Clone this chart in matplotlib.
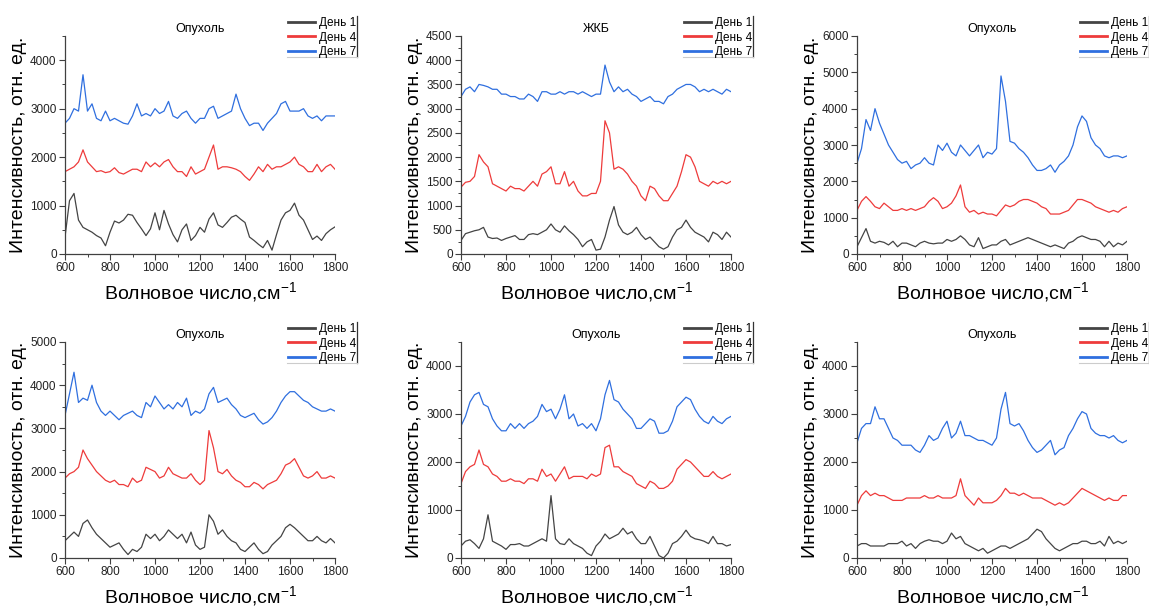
import numpy as np
import matplotlib
matplotlib.use("Agg")
import matplotlib.pyplot as plt
from matplotlib.ticker import MultipleLocator

plt.rcParams['font.family'] = ['Liberation Sans', 'DejaVu Sans']
plt.rcParams['mathtext.fontset'] = 'custom'
plt.rcParams['mathtext.rm'] = 'Liberation Sans'
plt.rcParams['mathtext.default'] = 'rm'

# wavenumber grid, cm^-1
wavenumber = np.arange(600, 1801, 20)

titles = ["Опухоль", "ЖКБ", "Опухоль", "Опухоль", "Опухоль", "Опухоль"]
labels = ["День 1", "День 4", "День 7"]
colors = ["#444444", "#ee3b3b", "#2f6fdf"]

# panel 1 (top left)
p1_day1 = [350, 1100, 1250, 700, 550, 500, 450, 380, 330, 170, 450, 680, 640, 700, 820, 800,
           650, 520, 380, 520, 850, 500, 900, 620, 400, 250, 500, 620, 280, 380, 550, 450,
           720, 850, 600, 550, 650, 760, 800, 720, 650, 350, 280, 200, 130, 280, 80, 400,
           700, 850, 900, 1050, 800, 700, 500, 300, 370, 280, 420, 500, 560]
p1_day4 = [1700, 1750, 1800, 1900, 2150, 1900, 1800, 1700, 1720, 1680, 1700, 1780, 1680, 1650,
           1700, 1750, 1750, 1700, 1900, 1800, 1880, 1800, 1900, 1950, 1800, 1700, 1700, 1600,
           1800, 1650, 1700, 1750, 2000, 2250, 1750, 1800, 1800, 1780, 1750, 1700, 1600, 1520,
           1650, 1800, 1700, 1850, 1750, 1800, 1800, 1850, 1900, 2000, 1850, 1800, 1700, 1700,
           1850, 1700, 1800, 1850, 1750]
p1_day7 = [2700, 2800, 3000, 2950, 3700, 2950, 3100, 2800, 2750, 2950, 2750, 2800, 2750, 2700,
           2680, 2850, 3100, 2850, 2900, 2850, 3000, 2900, 2950, 3150, 2850, 2800, 2900, 2950,
           2800, 2700, 2800, 2800, 3000, 3050, 2800, 2850, 2900, 2950, 3300, 3000, 2800, 2650,
           2700, 2700, 2550, 2700, 2800, 2900, 3100, 3150, 2950, 2950, 2950, 3000, 2850, 2800,
           2850, 2750, 2850, 2850, 2850]

# panel 2 (top middle)
p2_day1 = [280, 420, 450, 480, 500, 550, 350, 320, 330, 280, 320, 350, 380, 300, 300, 400,
           420, 400, 450, 500, 620, 500, 450, 580, 480, 400, 300, 150, 250, 300, 80, 100,
           350, 700, 980, 600, 450, 400, 450, 550, 400, 300, 350, 250, 150, 100, 150, 350,
           500, 550, 700, 550, 450, 400, 350, 250, 450, 400, 300, 450, 350]
p2_day4 = [1380, 1480, 1500, 1600, 2050, 1900, 1800, 1450, 1400, 1350, 1300, 1400, 1350, 1350,
           1300, 1400, 1500, 1400, 1650, 1700, 1800, 1450, 1450, 1700, 1400, 1500, 1300, 1200,
           1200, 1250, 1250, 1500, 2750, 2500, 1750, 1800, 1750, 1650, 1500, 1400, 1200, 1100,
           1400, 1350, 1200, 1100, 1100, 1250, 1400, 1700, 2050, 2000, 1800, 1500, 1450, 1400,
           1500, 1450, 1500, 1450, 1500]
p2_day7 = [3250, 3400, 3450, 3350, 3500, 3480, 3450, 3400, 3400, 3300, 3300, 3250, 3250, 3200,
           3200, 3300, 3250, 3150, 3350, 3350, 3300, 3300, 3350, 3300, 3350, 3350, 3300, 3350,
           3300, 3250, 3300, 3300, 3900, 3550, 3350, 3450, 3350, 3400, 3300, 3250, 3150, 3200,
           3250, 3150, 3150, 3100, 3250, 3300, 3400, 3450, 3500, 3500, 3450, 3350, 3400, 3350,
           3400, 3350, 3300, 3400, 3350]

# panel 3 (top right)
p3_day1 = [200, 450, 700, 350, 300, 350, 320, 250, 350, 200, 300, 300, 250, 200, 300, 350,
           300, 280, 300, 300, 400, 350, 400, 500, 400, 250, 200, 450, 150, 200, 250, 250,
           350, 400, 250, 300, 350, 400, 450, 400, 350, 300, 250, 200, 250, 200, 150, 300,
           350, 450, 500, 450, 400, 400, 350, 200, 350, 200, 300, 250, 350]
p3_day4 = [1200, 1450, 1580, 1450, 1300, 1250, 1400, 1300, 1200, 1200, 1250, 1200, 1250, 1200,
           1250, 1300, 1450, 1550, 1450, 1250, 1300, 1400, 1600, 1900, 1300, 1150, 1200, 1100,
           1150, 1100, 1100, 1050, 1200, 1350, 1300, 1350, 1450, 1500, 1500, 1450, 1400, 1300,
           1250, 1100, 1100, 1100, 1150, 1200, 1350, 1500, 1500, 1450, 1400, 1300, 1250, 1200,
           1150, 1200, 1150, 1250, 1300]
p3_day7 = [2500, 2900, 3700, 3400, 4000, 3600, 3300, 3000, 2800, 2600, 2500, 2550, 2350, 2450,
           2500, 2650, 2500, 2450, 3000, 2850, 3050, 2800, 2700, 3000, 2850, 2700, 2850, 3000,
           2650, 2800, 2750, 2900, 4900, 4200, 3100, 3050, 2900, 2800, 2650, 2450, 2300, 2300,
           2350, 2450, 2250, 2450, 2550, 2700, 3000, 3500, 3800, 3650, 3200, 3000, 2900, 2700,
           2650, 2700, 2700, 2650, 2700]

# panel 4 (bottom left)
p4_day1 = [400, 500, 600, 500, 800, 880, 700, 550, 450, 350, 250, 300, 350, 200, 80, 200,
           150, 250, 550, 450, 550, 400, 500, 650, 550, 450, 550, 350, 600, 300, 200, 250,
           1000, 850, 550, 650, 500, 400, 350, 200, 150, 250, 350, 200, 100, 150, 300, 400,
           500, 700, 780, 700, 600, 500, 400, 400, 500, 400, 350, 450, 350]
p4_day4 = [1850, 1950, 2000, 2100, 2500, 2300, 2150, 2000, 1900, 1800, 1750, 1800, 1700, 1700,
           1650, 1850, 1750, 1800, 2100, 2050, 2000, 1850, 1900, 2100, 1950, 1900, 1850, 1850,
           1950, 1800, 1700, 1800, 2950, 2550, 2000, 1950, 2050, 1900, 1800, 1750, 1650, 1650,
           1750, 1700, 1600, 1700, 1750, 1800, 1950, 2150, 2200, 2300, 2100, 1900, 1850, 1900,
           2000, 1850, 1850, 1900, 1850]
p4_day7 = [3300, 3800, 4300, 3600, 3700, 3650, 4000, 3600, 3400, 3300, 3400, 3300, 3200, 3300,
           3350, 3400, 3300, 3250, 3600, 3500, 3750, 3600, 3450, 3550, 3450, 3600, 3500, 3700,
           3300, 3400, 3350, 3450, 3800, 3950, 3600, 3650, 3700, 3550, 3450, 3300, 3250, 3300,
           3350, 3200, 3100, 3150, 3250, 3400, 3600, 3750, 3850, 3850, 3750, 3650, 3600, 3500,
           3450, 3400, 3400, 3450, 3400]

# panel 5 (bottom middle)
p5_day1 = [250, 350, 380, 300, 200, 400, 900, 350, 300, 250, 180, 280, 280, 300, 250, 250,
           300, 350, 400, 350, 1300, 400, 300, 280, 400, 300, 250, 200, 100, 50, 250, 350,
           500, 400, 450, 500, 620, 500, 550, 400, 300, 300, 450, 250, 50, 0, 100, 300,
           350, 450, 580, 450, 400, 380, 350, 300, 450, 300, 300, 250, 280]
p5_day4 = [1550, 1800, 1900, 1950, 2250, 1950, 1900, 1750, 1700, 1600, 1600, 1650, 1600, 1600,
           1550, 1650, 1650, 1600, 1850, 1700, 1750, 1600, 1750, 1900, 1650, 1700, 1700, 1700,
           1650, 1750, 1700, 1750, 2300, 2350, 1900, 1900, 1800, 1750, 1700, 1550, 1500, 1450,
           1600, 1550, 1450, 1450, 1500, 1600, 1850, 1950, 2050, 2000, 1900, 1800, 1700, 1700,
           1800, 1700, 1650, 1700, 1750]
p5_day7 = [2750, 2950, 3250, 3400, 3450, 3200, 3150, 2900, 2750, 2650, 2650, 2800, 2700, 2800,
           2700, 2800, 2850, 2950, 3200, 3050, 3100, 2900, 3100, 3400, 2900, 3000, 2750, 2800,
           2700, 2800, 2650, 2900, 3400, 3700, 3300, 3250, 3100, 3000, 2900, 2700, 2700, 2800,
           2900, 2850, 2600, 2600, 2650, 2850, 3150, 3250, 3350, 3300, 3100, 2950, 2850, 2800,
           2950, 2850, 2800, 2900, 2950]

# panel 6 (bottom right)
p6_day1 = [250, 300, 300, 250, 250, 250, 250, 300, 300, 300, 350, 250, 300, 200, 300, 350,
           380, 350, 350, 300, 350, 520, 400, 450, 300, 250, 200, 150, 200, 100, 150, 200,
           250, 250, 200, 250, 300, 350, 400, 500, 600, 550, 400, 300, 200, 150, 200, 250,
           300, 300, 350, 350, 300, 300, 350, 250, 450, 300, 350, 300, 350]
p6_day4 = [1100, 1300, 1400, 1300, 1350, 1300, 1300, 1250, 1200, 1200, 1200, 1250, 1250, 1250,
           1250, 1300, 1250, 1250, 1300, 1250, 1250, 1250, 1300, 1650, 1300, 1200, 1100, 1250,
           1150, 1150, 1150, 1200, 1300, 1450, 1350, 1350, 1300, 1350, 1300, 1250, 1250, 1250,
           1200, 1150, 1100, 1150, 1100, 1150, 1250, 1350, 1450, 1400, 1350, 1300, 1250, 1200,
           1250, 1200, 1200, 1300, 1300]
p6_day7 = [2400, 2700, 2800, 2800, 3150, 2900, 2900, 2700, 2500, 2450, 2350, 2350, 2350, 2250,
           2200, 2350, 2550, 2450, 2500, 2700, 2850, 2500, 2600, 2850, 2550, 2550, 2500, 2450,
           2450, 2400, 2350, 2500, 3100, 3450, 2800, 2750, 2800, 2650, 2450, 2300, 2200, 2250,
           2350, 2450, 2150, 2250, 2300, 2550, 2700, 2900, 3050, 3000, 2700, 2600, 2550, 2550,
           2500, 2550, 2450, 2400, 2450]

panels = [
    (p1_day1, p1_day4, p1_day7),
    (p2_day1, p2_day4, p2_day7),
    (p3_day1, p3_day4, p3_day7),
    (p4_day1, p4_day4, p4_day7),
    (p5_day1, p5_day4, p5_day7),
    (p6_day1, p6_day4, p6_day7),
]
ylims = [4500, 4500, 6000, 5000, 4500, 4500]
ymajor = [1000, 500, 1000, 1000, 1000, 1000]
yminor = [500, 250, 500, 500, 500, 500]

W, H = 1149, 608
fig = plt.figure(figsize=(W / 100, H / 100), dpi=100)

# axes boxes in pixels: left, right, top, bottom
boxes = [
    (65, 335, 36, 254), (461, 731, 36, 254), (857, 1127, 36, 254),
    (65, 335, 342, 558), (461, 731, 342, 558), (857, 1127, 342, 558),
]

axis_col = "#404040"
for i, (l, r, t, b) in enumerate(boxes):
    ax = fig.add_axes([l / W, 1 - b / H, (r - l) / W, (b - t) / H])
    for series, lab, col in zip(panels[i], labels, colors):
        ax.plot(wavenumber, series, color=col, lw=0.9, label=lab)
    ax.set_xlim(600, 1800)
    ax.set_ylim(0, ylims[i])
    ax.xaxis.set_major_locator(MultipleLocator(200))
    ax.xaxis.set_minor_locator(MultipleLocator(100))
    ax.yaxis.set_major_locator(MultipleLocator(ymajor[i]))
    ax.yaxis.set_minor_locator(MultipleLocator(yminor[i]))
    ax.spines['top'].set_visible(False)
    ax.spines['right'].set_visible(False)
    for s in ('left', 'bottom'):
        ax.spines[s].set_color(axis_col)
        ax.spines[s].set_linewidth(0.9)
    ax.tick_params(which='major', direction='out', length=4, width=0.8,
                   color=axis_col, labelsize=8.5, labelcolor='#222222', pad=2)
    ax.tick_params(which='minor', direction='out', length=2.5, width=0.7, color=axis_col)
    ax.set_title(titles[i], fontsize=9, pad=3)
    ax.set_xlabel("Волновое число,см$^{-1}$", fontsize=14, labelpad=4)
    ax.set_ylabel("Интенсивность, отн. ед.", fontsize=14, labelpad=2)

    # legend at upper right, sticking out of the axes
    bw, bh = r - l, b - t
    xr = (r + 22 - l) / bw
    ytop = (bh + 20) / bh
    ybot = (bh - 21) / bh
    leg = ax.legend(loc='upper right', bbox_to_anchor=(xr, ytop),
                    frameon=False, fontsize=8.5, handlelength=2.3, handletextpad=0.3,
                    labelspacing=0.2, borderaxespad=0, borderpad=0.1)
    for ln in leg.get_lines():
        ln.set_linewidth(2)
    # right and bottom edges of the legend box
    ax.plot([xr, xr], [ytop, ybot], transform=ax.transAxes,
            color='#333333', lw=0.9, clip_on=False)
    ax.plot([(r - 48 - l) / bw, xr], [ybot, ybot],
            transform=ax.transAxes, color='#cccccc', lw=0.8, clip_on=False)

fig.savefig("out.png", dpi=100)
